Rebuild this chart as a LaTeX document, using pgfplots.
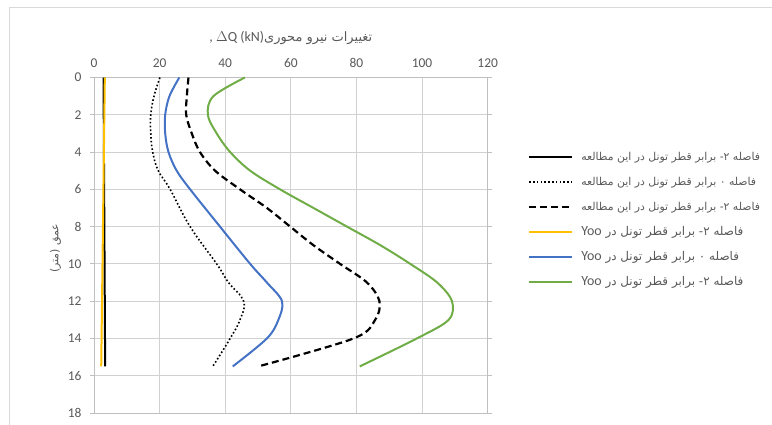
\documentclass[border=0pt]{standalone}
\usepackage{pgfplots}
\pgfplotsset{compat=1.18}
\usepackage{fontspec}
\setmainfont{Carlito}
\newfontfamily\arabicfont[Script=Arabic]{DejaVu Sans}
\TeXXeTstate=1
\definecolor{xgold}{HTML}{FFC000}
\definecolor{xblue}{HTML}{4472C4}
\definecolor{xgreen}{HTML}{70AD47}
\definecolor{xgray}{HTML}{595959}
\newcommand{\smallrtl}{\fontsize{10.9}{10.9}\selectfont}
\begin{document}
\begin{tikzpicture}
\useasboundingbox (0,0) rectangle (772bp,425bp);
\draw[black!15, line width=0.8bp] (9bp,0) -- (9bp,418bp) -- (772bp,418bp);
\begin{axis}[
  at={(94bp,12bp)}, anchor=south west,
  width=393.7bp, height=335.5bp, scale only axis,
  xmin=0, xmax=120, ymin=0, ymax=18, y dir=reverse,
  clip=false,
  xtick={0,20,...,120}, ytick={0,2,...,18},
  xticklabel pos=upper,
  xticklabel style={yshift=2bp},
  grid=major,
  major grid style={black!18, line width=0.8bp},
  axis line style={black!25, line width=0.8bp},
  xtick style={draw=none},
  ytick style={black!25, line width=0.8bp},
  tick align=outside, major tick length=4bp,
  /pgf/number format/assume math mode=true,
  tick label style={font=\fontsize{13.5}{13.5}\selectfont, text=xgray},
  yticklabel style={xshift=-5bp},
  ylabel={\arabicfont\fontsize{11}{11}\selectfont\beginR عمق (متر)\endR},
  ylabel style={text=xgray, xshift=-3bp},
  legend cell align=left,
  legend style={at={(1.102,0.577)}, anchor=west, draw=none, fill=none, inner sep=0pt,
    row sep=12bp,
    nodes={text height=10bp, text depth=3bp, inner sep=0pt, font=\arabicfont\fontsize{12}{12}\selectfont, text=xgray}},
  legend image code/.code={\draw[#1] (0bp,0bp) -- (43bp,0bp); \path (51bp,0bp);},
]
\addplot[black, line width=2bp] coordinates {(2.9,0) (3.4,15.5)};
\addplot[black, line width=1.6bp, dash pattern=on 1.6bp off 2.2bp, smooth, tension=0.7] coordinates {
(20.1,0) (18.3,1) (17.3,2) (17.3,3) (17.9,4) (19.6,5) (23.2,6) (29.3,8) (37.4,10) (41.0,11) (45.6,12) (44.5,13) (41.5,14) (36.2,15.5)};
\addplot[black, line width=2.2bp, dash pattern=on 7bp off 4bp, smooth, tension=0.55] coordinates {
(28.8,0) (28.3,1) (28.1,2) (29.8,3) (32.3,4) (36.9,5) (44.5,6) (52.7,7) (59.8,8) (66.9,9) (75,10) (83.2,11) (87,12) (85.7,13) (79.1,14) (50.1,15.5)};
\addplot[xgold, line width=2bp] coordinates {(3.3,0) (2.2,15.5)};
\addplot[xblue, line width=2bp, smooth, tension=0.55] coordinates {
(26,0) (23,1) (21.7,2) (21.7,3) (22.7,4) (25.2,5) (29.3,6) (38.4,8) (47.6,10) (52.7,11) (57.3,12) (56.2,13) (52.7,14) (42.3,15.5)};
\addplot[xgreen, line width=2bp, smooth, tension=0.55] coordinates {
(46,0) (36.4,1) (34.7,2) (37.4,3) (41.5,4) (47.6,5) (56.7,6) (66.9,7) (77.1,8) (87.3,9) (96.4,10) (104.6,11) (109.1,12) (108.1,13) (98.4,14) (81,15.5)};
\legend{
{\smallrtl\beginR فاصله ۲- برابر قطر تونل در این مطالعه\endR},
{\smallrtl\beginR فاصله ۰ برابر قطر تونل در این مطالعه\endR},
{\smallrtl\beginR فاصله ۲- برابر قطر تونل در این مطالعه\endR},
{\beginR فاصله ۲- برابر قطر تونل در \beginL{\rmfamily\fontsize{14}{14}\selectfont Yoo}\endL\endR},
{\beginR فاصله ۰ برابر قطر تونل در \beginL{\rmfamily\fontsize{14}{14}\selectfont Yoo}\endL\endR},
{\beginR فاصله ۲- برابر قطر تونل در \beginL{\rmfamily\fontsize{14}{14}\selectfont Yoo}\endL\endR}}
\node[text=xgray, anchor=center] at (rel axis cs:0.5,1) [yshift=39.5bp]
  {{\fontsize{14}{14}\selectfont, $\Delta$Q (kN)}{\arabicfont\fontsize{13}{13}\selectfont\beginR تغییرات نیرو محوری\endR}};
\end{axis}
\end{tikzpicture}
\end{document}
